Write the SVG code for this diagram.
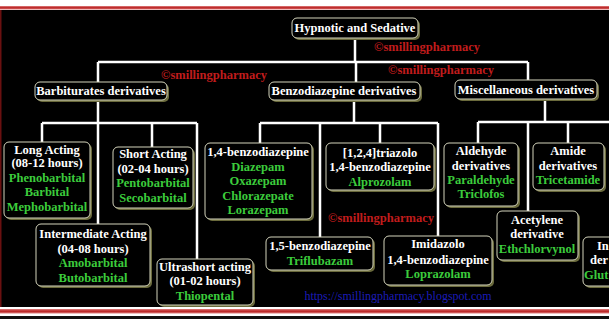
<svg xmlns="http://www.w3.org/2000/svg" width="609" height="319" viewBox="0 0 609 319">
<style>
.bg{fill:#000}
.box rect.sh{fill:#6a6a3c}
.box rect.fr{fill:#000;stroke:#d4d4bc;stroke-width:1}
text{font-family:"Liberation Serif","Times New Roman",serif;font-weight:bold;font-size:12.5px;text-anchor:middle}
.w{fill:#ffffff}
.g{fill:#3ccc3c}
.wm{fill:#c01c1c;font-size:12.5px}
.url{fill:#1c1cb8;font-weight:normal;font-size:12px}
#connectors path{stroke:#ffffff;stroke-width:2.5;fill:none}
</style>
<defs>
<linearGradient id="rl" x1="0" y1="0" x2="0" y2="1">
<stop offset="0" stop-color="#e08080"/><stop offset="0.5" stop-color="#b82020"/><stop offset="1" stop-color="#e08080"/>
</linearGradient>
</defs>
<!-- frame -->
<rect x="0" y="0" width="609" height="319" fill="#ffffff"/>
<rect x="0" y="6" width="609" height="3.5" fill="url(#rl)"/>
<rect class="bg" x="0" y="10" width="609" height="297"/>
<rect x="0" y="10" width="1.5" height="297" fill="#6a1010"/>
<rect x="0" y="309" width="609" height="4.5" fill="url(#rl)"/>
<rect x="0" y="316" width="609" height="3" fill="#101010"/>

<g id="connectors">
<path d="M355 38V62M98 62H528M98 62V82M356 62V82M528 62V80"/>
<path d="M98 100V123M42 123H197M42 123V142M98 123V224M152 123V147M197 123V259"/>
<path d="M354 100V123M260 123H438M260 123V143M320 123V237M380 123V143M438 123V236"/>
<path d="M545 99V122M478 122H612M478 122V143M528 122V211M568 122V143"/>
</g>

<g id="root" class="box"><rect class="sh" x="294" y="20" width="126" height="20" rx="5"/><rect class="fr" x="292" y="18" width="126" height="20" rx="5"/>
<text class="w" x="355" y="32">Hypnotic and Sedative</text></g>

<g id="barb" class="box"><rect class="sh" x="37" y="84" width="132" height="18" rx="5"/><rect class="fr" x="35" y="82" width="132" height="18" rx="5"/>
<text class="w" x="101" y="95">Barbiturates derivatives</text></g>

<g id="benzo" class="box"><rect class="sh" x="271" y="84" width="151" height="18" rx="5"/><rect class="fr" x="269" y="82" width="151" height="18" rx="5"/>
<text class="w" x="344" y="95">Benzodiazepine derivatives</text></g>

<g id="misc" class="box"><rect class="sh" x="457" y="82" width="142" height="19" rx="5"/><rect class="fr" x="455" y="80" width="142" height="19" rx="5"/>
<text class="w" x="526" y="94">Miscellaneous derivatives</text></g>

<g id="long" class="box"><rect class="sh" x="6" y="144" width="86" height="76" rx="5"/><rect class="fr" x="4" y="142" width="86" height="76" rx="5"/>
<text class="w" x="47" y="154">Long Acting</text><text class="w" x="47" y="167">(08-12 hours)</text>
<text class="g" x="47" y="182">Phenobarbital</text><text class="g" x="47" y="196">Barbital</text><text class="g" x="47" y="211">Mephobarbital</text></g>

<g id="short" class="box"><rect class="sh" x="115" y="149" width="80" height="61" rx="5"/><rect class="fr" x="113" y="147" width="80" height="61" rx="5"/>
<text class="w" x="153" y="158">Short Acting</text><text class="w" x="153" y="173">(02-04 hours)</text>
<text class="g" x="153" y="187">Pentobarbital</text><text class="g" x="153" y="202">Secobarbital</text></g>

<g id="inter" class="box"><rect class="sh" x="38" y="226" width="114" height="62" rx="5"/><rect class="fr" x="36" y="224" width="114" height="62" rx="5"/>
<text class="w" x="93" y="238">Intermediate Acting</text><text class="w" x="93" y="253">(04-08 hours)</text>
<text class="g" x="93" y="267">Amobarbital</text><text class="g" x="93" y="282">Butobarbital</text></g>

<g id="ultra" class="box"><rect class="sh" x="159" y="261" width="96" height="46" rx="5"/><rect class="fr" x="157" y="259" width="96" height="46" rx="5"/>
<text class="w" x="205" y="271">Ultrashort acting</text><text class="w" x="205" y="285">(01-02 hours)</text>
<text class="g" x="205" y="300">Thiopental</text></g>

<g id="b14" class="box"><rect class="sh" x="207" y="145" width="107" height="76" rx="5"/><rect class="fr" x="205" y="143" width="107" height="76" rx="5"/>
<text class="w" x="258" y="156">1,4-benzodiazepine</text><text class="g" x="258" y="171">Diazepam</text>
<text class="g" x="258" y="185">Oxazepam</text><text class="g" x="258" y="200">Chlorazepate</text><text class="g" x="258" y="214">Lorazepam</text></g>

<g id="triazolo" class="box"><rect class="sh" x="328" y="145" width="108" height="47" rx="5"/><rect class="fr" x="326" y="143" width="108" height="47" rx="5"/>
<text class="w" x="380" y="157">[1,2,4]triazolo</text><text class="w" x="380" y="171">1,4-benzodiazepine</text>
<text class="g" x="380" y="186">Alprozolam</text></g>

<g id="b15" class="box"><rect class="sh" x="268" y="239" width="107" height="33" rx="5"/><rect class="fr" x="266" y="237" width="107" height="33" rx="5"/>
<text class="w" x="320" y="250">1,5-benzodiazepine</text><text class="g" x="320" y="265">Triflubazam</text></g>

<g id="imidazolo" class="box"><rect class="sh" x="386" y="238" width="108" height="49" rx="5"/><rect class="fr" x="384" y="236" width="108" height="49" rx="5"/>
<text class="w" x="438" y="248">Imidazolo</text><text class="w" x="438" y="264">1,4-benzodiazepine</text>
<text class="g" x="438" y="278">Loprazolam</text></g>

<g id="aldehyde" class="box"><rect class="sh" x="446" y="145" width="74" height="63" rx="5"/><rect class="fr" x="444" y="143" width="74" height="63" rx="5"/>
<text class="w" x="481" y="155">Aldehyde</text><text class="w" x="481" y="170">derivatives</text>
<text class="g" x="481" y="184">Paraldehyde</text><text class="g" x="481" y="198">Triclofos</text></g>

<g id="amide" class="box"><rect class="sh" x="535" y="145" width="71" height="47" rx="5"/><rect class="fr" x="533" y="143" width="71" height="47" rx="5"/>
<text class="w" x="568" y="155">Amide</text><text class="w" x="568" y="170">derivatives</text>
<text class="g" x="568" y="184">Tricetamide</text></g>

<g id="acetylene" class="box"><rect class="sh" x="499" y="213" width="81" height="49" rx="5"/><rect class="fr" x="497" y="211" width="81" height="49" rx="5"/>
<text class="w" x="537" y="224">Acetylene</text><text class="w" x="537" y="238">derivative</text>
<text class="g" x="537" y="253">Ethchlorvynol</text></g>

<g id="imide" class="box"><rect class="sh" x="585" y="239" width="40" height="49" rx="5"/><rect class="fr" x="583" y="237" width="40" height="49" rx="5"/>
<text class="w" x="597" y="250" style="text-anchor:start">In</text><text class="w" x="590" y="264" style="text-anchor:start">der</text>
<text class="g" x="584" y="279" style="text-anchor:start">Glut</text></g>

<g id="watermarks">
<text class="wm" x="427" y="51">©smillingpharmacy</text>
<text class="wm" x="441" y="74">©smillingpharmacy</text>
<text class="wm" x="214" y="79">©smillingpharmacy</text>
<text class="wm" x="381" y="222">©smillingpharmacy</text>
<text class="url" x="398" y="300">https://smillingpharmacy.blogspot.com</text>
</g>
</svg>
